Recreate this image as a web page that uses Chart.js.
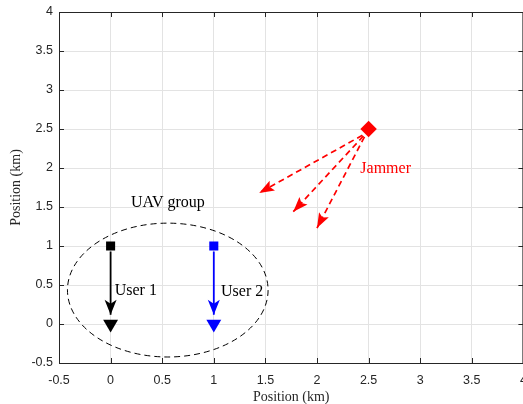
<!DOCTYPE html>
<html>
<head>
<meta charset="utf-8">
<script src="https://cdn.jsdelivr.net/npm/chart.js@4.4.1/dist/chart.umd.min.js"></script>
<style>
  html, body { margin: 0; padding: 0; overflow: hidden; background: #fff; }
  #wrap { width: 532px; height: 404px; }
</style>
</head>
<body>
<div id="wrap"><canvas id="c" width="532" height="404"></canvas></div>
<script>
// ---- data ----
const xTicks = [-0.5, 0, 0.5, 1, 1.5, 2, 2.5, 3, 3.5, 4];
const yTicks = [-0.5, 0, 0.5, 1, 1.5, 2, 2.5, 3, 3.5, 4];

const userNames = ['User 1', 'User 2'];
const userColors = ['#000000', '#0000ff'];
const userStartX = [0, 1];
const userStartY = [1, 1];
const userEndX = [0, 1];
const userEndY = [0, 0];
const userArrowFromY = [0.93, 0.93];
const userArrowToY = [0.12, 0.12];
const userLabelX = [0.04, 1.07];
const userLabelY = [0.375, 0.355];

const jammerX = [2.5];
const jammerY = [2.5];
const jamArrowFromX = [2.44, 2.45, 2.46];
const jamArrowFromY = [2.42, 2.41, 2.40];
const jamArrowToX = [1.44, 1.77, 2.0];
const jamArrowToY = [1.68, 1.44, 1.23];
const jammerLabel = 'Jammer';
const jammerLabelPos = [2.42, 1.94];

const groupLabel = 'UAV group';
const groupLabelPos = [0.555, 1.5];
const ellipseCenter = [0.554, 0.435];
const ellipseRadii = [0.972, 0.858];

// ---- datasets ----
const datasets = [];
userNames.forEach((n, i) => {
  datasets.push({
    label: n + ' path',
    data: [{x: userStartX[i], y: userArrowFromY[i]}, {x: userEndX[i], y: userArrowToY[i]}],
    showLine: true, borderColor: userColors[i], borderWidth: 1.8, pointRadius: 0,
    arrowHead: {color: userColors[i], len: 15, width: 12, notch: 4}
  });
  datasets.push({
    label: n + ' start',
    data: [{x: userStartX[i], y: userStartY[i]}],
    pointStyle: 'rect', pointRadius: 6.4, backgroundColor: userColors[i], borderColor: userColors[i], borderWidth: 0
  });
  datasets.push({
    label: n + ' end',
    data: [{x: userEndX[i], y: userEndY[i]}],
    pointStyle: 'triangle', rotation: 180, pointRadius: 8.6, backgroundColor: userColors[i], borderColor: userColors[i], borderWidth: 0
  });
});
jamArrowFromX.forEach((x, i) => {
  datasets.push({
    label: 'jam ' + i,
    data: [{x: x, y: jamArrowFromY[i]}, {x: jamArrowToX[i], y: jamArrowToY[i]}],
    showLine: true, borderColor: '#ff0000', borderWidth: 1.7, borderDash: [6, 4], pointRadius: 0,
    arrowHead: {color: '#ff0000', len: 15, width: 11, notch: 3}
  });
});
datasets.push({
  label: 'Jammer',
  data: [{x: jammerX[0], y: jammerY[0]}],
  pointStyle: 'rectRot', pointRadius: 8.2, backgroundColor: '#ff0000', borderColor: '#ff0000', borderWidth: 0
});

const AX = '#262626';

const extras = {
  id: 'extras',
  afterDatasetsDraw(chart) {
    const ctx = chart.ctx, xs = chart.scales.x, ys = chart.scales.y, ca = chart.chartArea;
    const px = v => xs.getPixelForValue(v), py = v => ys.getPixelForValue(v);
    ctx.save();
    // arrowheads
    chart.data.datasets.forEach(ds => {
      if (!ds.arrowHead) return;
      const a = ds.data[0], b = ds.data[1];
      const x0 = px(a.x), y0 = py(a.y), x1 = px(b.x), y1 = py(b.y);
      const ang = Math.atan2(y1 - y0, x1 - x0);
      const h = ds.arrowHead;
      ctx.save();
      ctx.translate(x1, y1);
      ctx.rotate(ang);
      ctx.fillStyle = h.color;
      ctx.beginPath();
      ctx.moveTo(0, 0);
      ctx.lineTo(-h.len, -h.width / 2);
      ctx.lineTo(-h.len + h.notch, 0);
      ctx.lineTo(-h.len, h.width / 2);
      ctx.closePath();
      ctx.fill();
      ctx.restore();
    });
    // ellipse
    const cx = px(ellipseCenter[0]), cy = py(ellipseCenter[1]);
    const rx = Math.abs(px(ellipseCenter[0] + ellipseRadii[0]) - cx);
    const ry = Math.abs(py(ellipseCenter[1] + ellipseRadii[1]) - cy);
    ctx.strokeStyle = '#000';
    ctx.lineWidth = 1;
    ctx.setLineDash([6, 4]);
    ctx.beginPath();
    ctx.ellipse(cx, cy, rx, ry, 0, 0, Math.PI * 2);
    ctx.stroke();
    ctx.setLineDash([]);
    // text labels
    ctx.font = '16px "Liberation Serif", "Times New Roman", serif';
    ctx.textBaseline = 'alphabetic';
    ctx.fillStyle = '#000';
    ctx.textAlign = 'center';
    ctx.fillText(groupLabel, px(groupLabelPos[0]), py(groupLabelPos[1]));
    ctx.textAlign = 'left';
    userNames.forEach((n, i) => {
      ctx.fillStyle = '#000';
      ctx.fillText(n, px(userLabelX[i]), py(userLabelY[i]));
    });
    ctx.fillStyle = '#ff0000';
    ctx.fillText(jammerLabel, px(jammerLabelPos[0]), py(jammerLabelPos[1]));
    // box + inward ticks
    ctx.strokeStyle = AX;
    ctx.lineWidth = 1;
    ctx.beginPath();
    ctx.moveTo(ca.left, ca.top + 0.5); ctx.lineTo(ca.right, ca.top + 0.5);
    ctx.moveTo(ca.right - 0.5, ca.top); ctx.lineTo(ca.right - 0.5, ca.bottom);
    const tl = 5;
    xTicks.forEach(t => {
      const x = Math.round(px(t)) + 0.5;
      ctx.moveTo(x, ca.bottom); ctx.lineTo(x, ca.bottom - tl);
      ctx.moveTo(x, ca.top); ctx.lineTo(x, ca.top + tl);
    });
    yTicks.forEach(t => {
      const y = Math.round(py(t)) + 0.5;
      ctx.moveTo(ca.left, y); ctx.lineTo(ca.left + tl, y);
      ctx.moveTo(ca.right, y); ctx.lineTo(ca.right - tl, y);
    });
    ctx.stroke();
    ctx.restore();
  }
};

const tickFont = {family: '"Liberation Sans", Arial, sans-serif', size: 12.5};
const titleFont = {family: '"Liberation Serif", "Times New Roman", serif', size: 14};

new Chart(document.getElementById('c'), {
  type: 'scatter',
  data: {datasets},
  options: {
    responsive: false,
    animation: false,
    events: [],
    layout: {padding: {left: 0, right: 6, top: 12, bottom: 0}},
    plugins: {legend: {display: false}, tooltip: {enabled: false}},
    scales: {
      x: {
        type: 'linear', min: -0.5, max: 4,
        afterBuildTicks: s => { s.ticks = xTicks.map(v => ({value: v})); },
        afterFit: s => { s.height = 41; s.paddingRight = 0; s.paddingLeft = 0; },
        ticks: {font: tickFont, color: AX, padding: 10, maxRotation: 0,
                callback: v => String(v)},
        grid: {color: '#e3e3e3', drawTicks: false, lineWidth: 1},
        border: {display: true, color: AX, width: 1},
        title: {display: true, text: 'Position (km)', font: titleFont, color: AX, padding: {top: 0, bottom: -2}}
      },
      y: {
        type: 'linear', min: -0.5, max: 4,
        afterBuildTicks: s => { s.ticks = yTicks.map(v => ({value: v})); },
        afterFit: s => { s.width = 59; s.paddingTop = 0; s.paddingBottom = 0; },
        ticks: {font: tickFont, color: AX, padding: 6,
                callback: v => String(v)},
        grid: {color: '#e3e3e3', drawTicks: false, lineWidth: 1},
        border: {display: true, color: AX, width: 1},
        title: {display: true, text: 'Position (km)', font: titleFont, color: AX, padding: {top: 8, bottom: 0}}
      }
    }
  },
  plugins: [extras]
});
</script>
</body>
</html>
